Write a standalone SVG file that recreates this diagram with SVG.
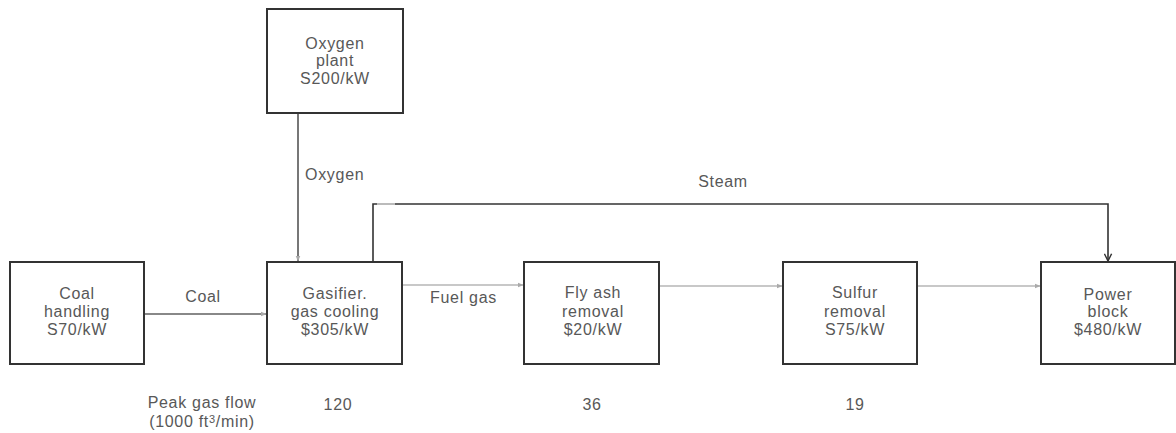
<svg xmlns="http://www.w3.org/2000/svg" width="1176" height="433" viewBox="0 0 1176 433">
<style>
.box{fill:#fff;stroke:#333;stroke-width:2}
text{font-family:"Liberation Sans",Arial,sans-serif;font-size:16px;letter-spacing:0.7px;fill:#585858;text-anchor:middle}
.lbl{text-anchor:start}
.flow{fill:none;stroke:#c8c8c8;stroke-width:2}
.dark{fill:none;stroke:#333;stroke-width:1.6}
</style>
<defs>
<marker id="ag" viewBox="0 0 10 10" refX="9" refY="5" markerWidth="6" markerHeight="6" orient="auto" markerUnits="userSpaceOnUse"><path d="M0,1 L10,5 L0,9 Z" fill="#aaa"/></marker>
<marker id="ad" viewBox="0 0 10 10" refX="9" refY="5" markerWidth="9" markerHeight="9" orient="auto" markerUnits="userSpaceOnUse"><path d="M1,1 L9,5 L1,9" fill="none" stroke="#333" stroke-width="1.6"/></marker>
</defs>
<rect width="1176" height="433" fill="#fff"/>
<g id="connectors">
<line x1="144" y1="314" x2="266" y2="314" stroke="#888" stroke-width="2" marker-end="url(#ag)"/>
<line x1="402" y1="285" x2="523" y2="285" class="flow" marker-end="url(#ag)"/>
<line x1="659" y1="286" x2="782" y2="286" class="flow" marker-end="url(#ag)"/>
<line x1="917" y1="286" x2="1040" y2="286" class="flow" marker-end="url(#ag)"/>
<line x1="298" y1="113" x2="298" y2="261" stroke="#555" stroke-width="1.6" marker-end="url(#ag)"/>
<polyline points="373,262 373,204 1108,204 1108,261" class="dark" marker-end="url(#ad)"/>
<line x1="377" y1="204" x2="395" y2="204" stroke="#bbb" stroke-width="2"/>
<text class="lbl" x="305" y="180">Oxygen</text>
<text x="723" y="187">Steam</text>
<text x="203" y="302">Coal</text>
<text class="lbl" x="430" y="303">Fuel gas</text>
</g>
<g id="oxygen-plant">
<rect class="box" x="267" y="9" width="136" height="104"/>
<text x="335" y="49">Oxygen</text>
<text x="335" y="66">plant</text>
<text x="335" y="84">S200/kW</text>
</g>
<g id="coal-handling">
<rect class="box" x="10" y="262" width="134" height="102"/>
<text x="77" y="299">Coal</text>
<text x="77" y="317">handling</text>
<text x="77" y="335">S70/kW</text>
</g>
<g id="gasifier">
<rect class="box" x="267" y="262" width="135" height="102"/>
<text x="335" y="299">Gasifier.</text>
<text x="335" y="317">gas cooling</text>
<text x="335" y="335">$305/kW</text>
</g>
<g id="fly-ash">
<rect class="box" x="524" y="262" width="135" height="102"/>
<text x="593" y="298">Fly ash</text>
<text x="593" y="317">removal</text>
<text x="593" y="335">$20/kW</text>
</g>
<g id="sulfur">
<rect class="box" x="783" y="262" width="134" height="102"/>
<text x="855" y="298">Sulfur</text>
<text x="855" y="317">removal</text>
<text x="855" y="335">S75/kW</text>
</g>
<g id="power-block">
<rect class="box" x="1041" y="262" width="134" height="102"/>
<text x="1108" y="300">Power</text>
<text x="1108" y="317">block</text>
<text x="1108" y="335">$480/kW</text>
</g>
<g id="gas-flow">
<text x="202" y="408">Peak gas flow<tspan x="202" dy="19">(1000 ft</tspan><tspan dy="-4" font-size="11">3</tspan><tspan dy="4">/min)</tspan></text>
<text x="338" y="410">120</text>
<text x="592" y="410">36</text>
<text x="855" y="410">19</text>
</g>
</svg>
